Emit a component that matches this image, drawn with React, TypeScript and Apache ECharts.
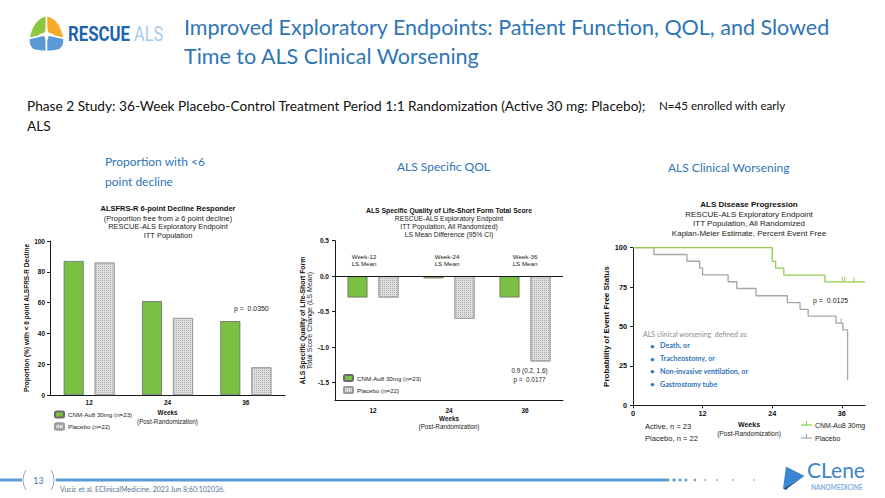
import React, { useEffect, useRef } from 'react';
import * as echarts from 'echarts';

// ---------- data ----------
const weeks = ['12', '24', '36'];
const responderActive = [87, 61, 48];
const responderPlacebo = [86, 50, 18];
const qolActive = [-0.3, -0.03, -0.3];
const qolPlacebo = [-0.3, -0.6, -1.2];
const qolTicks = [-1.5, -1.0, -0.5, 0, 0.5];
const kmWeekTicks = [0, 12, 24, 36];
const kmActiveWeeks = [0, 24.0, 24.6, 26.0, 33.1, 40];
const kmActiveProb = [100, 91.3, 87.0, 82.6, 78.3, 78.3];
const kmPlaceboWeeks = [0, 3.6, 9.3, 11.5, 12.0, 16.4, 17.9, 21.2, 26.6, 28.8, 30.2, 35.0, 36.2, 37.0];
const kmPlaceboProb = [100, 95.7, 91.4, 87.0, 82.7, 78.4, 74.1, 69.5, 65.1, 60.9, 56.6, 52.1, 47.8, 15.9];
const kmActiveCensorWeeks = [36.1, 36.5, 38.1];
const kmActiveCensorProb = [78.3, 78.3, 78.3];
const kmPlaceboCensorWeeks = [35.9];
const kmPlaceboCensorProb = [52.1];
const worseningItems = ['Death, or', 'Tracheostomy, or', 'Non-invasive ventilation, or', 'Gastrostomy tube'];

const ACTIVE = 'CNM-Au8 30mg (n=23)';
const PLACEBO = 'Placebo (n=22)';

const FONT = '"Liberation Sans", Arial, sans-serif';
const SLIDE = 'Lato, Calibri, sans-serif';
const BLUE = '#2e75b6';
const GREEN = '#7ac143';
const KM_GREEN = '#8fce4d';
const KM_GRAY = '#a6a6a6';

// ---------- logo shapes ----------
let registered = false;
function registerShapes() {
  if (registered) return;
  registered = true;
  const g = echarts.graphic as any;
  g.registerShape('rescueGreen', g.extendPath('M18,0 Q4,3 0.5,23 L18,19 Z', {}));
  g.registerShape('rescueOrange', g.extendPath('M18,0 Q32,3 35.5,23 L18,19 Z', {}));
  g.registerShape('rescueBlueL', g.extendPath('M0.5,23 Q-0.5,34 8,35 Q13,36 18,36 L18,19 Z', {}));
  g.registerShape('rescueBlueR', g.extendPath('M35.5,23 Q36.5,34 28,35 Q23,36 18,36 L18,19 Z', {}));
}

function txt(text: string, x: number, y: number, size: number, fill: string, extra: any = {}) {
  return {
    type: 'text',
    x,
    y,
    silent: true,
    scaleX: extra.scaleX ?? 1,
    style: {
      text,
      fontSize: size,
      fontFamily: extra.family || SLIDE,
      fontWeight: extra.weight || 'normal',
      fill,
      align: extra.align || 'left',
      verticalAlign: 'middle',
    },
  };
}

function zip(a: number[], b: number[]) {
  return a.map((v, i) => [v, b[i]]);
}

function buildOption() {
  const axisLineStyle = { color: '#1a1a1a', width: 1 };
  const tickLabel = (size: number) => ({ fontSize: size, fontWeight: 'bold', color: '#111', fontFamily: FONT });
  const weeksName = '{a|Weeks}\n{b|(Post-Randomization)}';
  const weeksRich = (sizeA: number, sizeB: number, lh: number) => ({
    rich: {
      a: { fontSize: sizeA, fontWeight: 'bold', color: '#111', lineHeight: lh, fontFamily: FONT },
      b: { fontSize: sizeB, color: '#222', lineHeight: lh, fontFamily: FONT },
    },
  });
  const placeboDecal = {
    symbol: 'rect',
    symbolSize: 1,
    dashArrayX: [1, 1],
    dashArrayY: [1, 1],
    color: 'rgba(120,120,120,0.45)',
    rotation: 0,
  };

  const graphic: any[] = [
    // RESCUE ALS logo
    { type: 'rescueGreen', x: 28.5, y: 15.5, style: { fill: '#8dc63f', stroke: '#fff', lineWidth: 1.5 } },
    { type: 'rescueOrange', x: 28.5, y: 15.5, style: { fill: '#f7a928', stroke: '#fff', lineWidth: 1.5 } },
    { type: 'rescueBlueL', x: 28.5, y: 15.5, style: { fill: '#5b9bd5', stroke: '#fff', lineWidth: 1.5 } },
    { type: 'rescueBlueR', x: 28.5, y: 15.5, style: { fill: '#5b9bd5', stroke: '#fff', lineWidth: 1.5 } },
    {
      type: 'polygon',
      x: 28.5,
      y: 15.5,
      shape: { points: [[18, 11], [20, 17], [26, 19], [20, 21], [18, 27], [16, 21], [10, 19], [16, 17]] },
      style: { fill: '#ffffff' },
    },
    txt('RESCUE', 68, 34, 21, '#1f63ad', { family: 'Roboto', weight: 'bold', scaleX: 0.8 }),
    txt('ALS', 134, 34, 21, '#a9cbea', { family: 'Roboto', scaleX: 0.78 }),
    // title
    txt('Improved Exploratory Endpoints: Patient Function, QOL, and Slowed', 184, 27, 21.5, BLUE),
    txt('Time to ALS Clinical Worsening', 184, 56, 21.5, BLUE),
    // subtitle
    txt('Phase 2 Study: 36-Week Placebo-Control Treatment Period 1:1 Randomization (Active 30 mg: Placebo);', 27, 105, 13.7, '#111'),
    txt('N=45 enrolled with early', 659, 105, 11.6, '#111'),
    txt('ALS', 27, 125, 13.7, '#111'),
    // section headings
    txt('Proportion with <6', 105, 161, 12, BLUE),
    txt('point decline', 105, 181, 12, BLUE),
    txt('ALS Specific QOL', 397, 166, 12, BLUE),
    txt('ALS Clinical Worsening', 668, 167, 12, BLUE),
    // chart 1 annotation
    txt('p =  0.0350', 234, 308, 6.9, '#222', { family: FONT }),
    // chart 2 annotations
    txt('Week-12', 364, 256.7, 6.2, '#222', { family: FONT, align: 'center' }),
    txt('LS Mean', 364, 263.3, 6.2, '#222', { family: FONT, align: 'center' }),
    txt('Week-24', 447, 256.7, 6.2, '#222', { family: FONT, align: 'center' }),
    txt('LS Mean', 447, 263.3, 6.2, '#222', { family: FONT, align: 'center' }),
    txt('Week-36', 525, 256.7, 6.2, '#222', { family: FONT, align: 'center' }),
    txt('LS Mean', 525, 263.3, 6.2, '#222', { family: FONT, align: 'center' }),
    txt('0.9 (0.2, 1.6)', 529.5, 370, 6.4, '#222', { family: FONT, align: 'center' }),
    txt('p =  0.0177', 529.5, 379, 6.4, '#222', { family: FONT, align: 'center' }),
    // chart 3 annotations
    txt('p =  0.0125', 813, 300, 7, '#222', { family: FONT }),
    txt('ALS clinical worsening  defined as:', 643, 334, 7, '#8c8c8c'),
    txt('Active, n = 23', 645, 426, 7.6, '#222', { family: FONT }),
    txt('Placebo, n = 22', 645, 438, 7.6, '#222', { family: FONT }),
    // KM legend
    { type: 'line', shape: { x1: 801, y1: 425, x2: 812, y2: 425 }, style: { stroke: KM_GREEN, lineWidth: 1.2 } },
    { type: 'line', shape: { x1: 806.5, y1: 421, x2: 806.5, y2: 425 }, style: { stroke: KM_GREEN, lineWidth: 1.2 } },
    txt('CNM-Au8 30mg', 815, 425, 7, '#222', { family: FONT }),
    { type: 'line', shape: { x1: 801, y1: 438, x2: 812, y2: 438 }, style: { stroke: KM_GRAY, lineWidth: 1.2 } },
    { type: 'line', shape: { x1: 806.5, y1: 434, x2: 806.5, y2: 438 }, style: { stroke: KM_GRAY, lineWidth: 1.2 } },
    txt('Placebo', 815, 438, 7, '#222', { family: FONT }),
    // footer
    { type: 'line', shape: { x1: 0, y1: 480, x2: 22, y2: 480 }, style: { stroke: '#5b9bd5', lineWidth: 3 } },
    { type: 'line', shape: { x1: 57, y1: 480, x2: 668, y2: 480 }, style: { stroke: '#5b9bd5', lineWidth: 3, lineCap: 'round' } },
    {
      type: 'arc',
      shape: { cx: 41, cy: 480, r: 18, startAngle: Math.PI - 0.59, endAngle: Math.PI + 0.59, clockwise: true },
      style: { stroke: '#8aa9cf', lineWidth: 1, fill: 'none' },
    },
    {
      type: 'arc',
      shape: { cx: 36, cy: 480, r: 18, startAngle: -0.59, endAngle: 0.59, clockwise: true },
      style: { stroke: '#8aa9cf', lineWidth: 1, fill: 'none' },
    },
    txt('13', 38.5, 480, 9, '#5577a6', { align: 'center' }),
    txt('Vucic et al. EClinicalMedicine. 2023 Jun 8;60:102036.', 60, 489, 7, '#5a6f96'),
    // Clene logo
    { type: 'polygon', shape: { points: [[786, 466.5], [804.5, 476], [783, 488.5]] }, style: { fill: '#3a86d0' } },
    { type: 'polygon', shape: { points: [[783, 488.5], [804.5, 476], [789, 487], [786, 490]] }, style: { fill: '#1e4f8e' } },
    txt('CLene', 807, 469.5, 21, '#3d85c6'),
    txt('NANOMEDICINE', 811, 487.5, 6.5, '#7fb0de', { weight: 'bold' }),
  ];

  // footer dots
  const dotX = [674, 680, 686, 695, 705, 717, 733, 754];
  dotX.forEach((x, i) => {
    graphic.push({
      type: 'circle',
      shape: { cx: x, cy: 480, r: 1.6 - i * 0.1 },
      style: { fill: i < 4 ? '#5b9bd5' : '#9cc2e8' },
    });
  });

  // KM bullet list
  worseningItems.forEach((t, i) => {
    const y = 345.7 + i * 12.8;
    graphic.push(txt('•', 650, y, 8, BLUE, { weight: 'bold' }));
    graphic.push(txt(t, 660, y, 7.2, BLUE, { weight: 'bold' }));
  });

  const legendBase = {
    orient: 'vertical',
    padding: 0,
    itemWidth: 9,
    itemHeight: 6,
    itemGap: 4,
    selectedMode: false,
    data: [ACTIVE, PLACEBO],
    textStyle: { fontSize: 6.2, color: '#222', fontFamily: FONT, padding: [0, 0, 0, -1] },
  };

  return {
    animation: false,
    backgroundColor: '#ffffff',
    textStyle: { fontFamily: FONT },
    title: [
      {
        left: 168,
        top: 204,
        textAlign: 'center',
        padding: 0,
        itemGap: 2,
        text: 'ALSFRS-R 6-point Decline Responder',
        subtext: '(Proportion free from \u2265 6 point decline)\nRESCUE-ALS Exploratory Endpoint\nITT Population',
        textStyle: { fontSize: 7.5, lineHeight: 8, fontWeight: 'bold', color: '#111', fontFamily: FONT },
        subtextStyle: { fontSize: 7.5, lineHeight: 8.5, color: '#222', fontFamily: FONT },
      },
      {
        left: 449,
        top: 206.5,
        textAlign: 'center',
        padding: 0,
        itemGap: 1,
        text: 'ALS Specific Quality of Life-Short Form Total Score',
        subtext: 'RESCUE-ALS Exploratory Endpoint\nITT Population, All Randomized)\nLS Mean Difference (95% CI)',
        textStyle: { fontSize: 6.8, lineHeight: 7, fontWeight: 'bold', color: '#111', fontFamily: FONT },
        subtextStyle: { fontSize: 6.8, lineHeight: 8, color: '#222', fontFamily: FONT },
      },
      {
        left: 749,
        top: 200,
        textAlign: 'center',
        padding: 0,
        itemGap: 1,
        text: 'ALS Disease Progression',
        subtext: 'RESCUE-ALS Exploratory Endpoint\nITT Population, All Randomized\nKaplan-Meier Estimate, Percent Event Free',
        textStyle: { fontSize: 8, lineHeight: 8.5, fontWeight: 'bold', color: '#111', fontFamily: FONT },
        subtextStyle: { fontSize: 8, lineHeight: 9.5, color: '#222', fontFamily: FONT },
      },
    ],
    legend: [
      { ...legendBase, left: 54, top: 410.5 },
      { ...legendBase, left: 343, top: 374 },
    ],
    grid: [
      { left: 50, top: 241, width: 235, height: 154 },
      { left: 335, top: 240.7, width: 228, height: 159.8 },
      { left: 633, top: 247.7, width: 232, height: 157.6 },
    ],
    xAxis: [
      {
        gridIndex: 0,
        type: 'category',
        data: weeks,
        axisLine: { lineStyle: axisLineStyle },
        axisTick: { alignWithLabel: true, length: 3, lineStyle: axisLineStyle },
        axisLabel: { ...tickLabel(6.5), margin: 4 },
        name: weeksName,
        nameLocation: 'middle',
        nameGap: 13,
        nameTextStyle: weeksRich(6.3, 6.3, 9),
      },
      {
        gridIndex: 1,
        type: 'category',
        data: weeks,
        axisLine: { onZero: false, lineStyle: axisLineStyle },
        axisTick: { alignWithLabel: true, length: 3, lineStyle: axisLineStyle },
        axisLabel: { ...tickLabel(6.5), margin: 6 },
        name: weeksName,
        nameLocation: 'middle',
        nameGap: 14.5,
        nameTextStyle: weeksRich(6.3, 6.3, 7.5),
      },
      {
        gridIndex: 2,
        type: 'value',
        min: 0,
        max: 40,
        axisLine: { show: true, onZero: false, lineStyle: axisLineStyle },
        axisTick: { show: true, length: 3, lineStyle: axisLineStyle, customValues: kmWeekTicks },
        axisLabel: { ...tickLabel(7.3), margin: 5, customValues: kmWeekTicks },
        splitLine: { show: false },
        name: weeksName,
        nameLocation: 'middle',
        nameGap: 15,
        nameTextStyle: weeksRich(7, 6.6, 9),
      },
    ],
    yAxis: [
      {
        gridIndex: 0,
        type: 'value',
        min: 0,
        max: 100,
        interval: 20,
        axisLine: { show: true, lineStyle: axisLineStyle },
        axisTick: { show: true, length: 3, lineStyle: axisLineStyle },
        axisLabel: { ...tickLabel(6.5), margin: 5 },
        splitLine: { show: false },
        name: 'Proportion (%) with < 6 point ALSFRS-R Decline',
        nameLocation: 'middle',
        nameRotate: 90,
        nameGap: 19,
        nameTextStyle: { fontSize: 6.5, fontWeight: 'bold', color: '#111', fontFamily: FONT },
      },
      {
        gridIndex: 1,
        type: 'value',
        min: -1.75,
        max: 0.5,
        axisLine: { show: true, onZero: false, lineStyle: axisLineStyle },
        axisTick: { show: true, length: 3, lineStyle: axisLineStyle, customValues: qolTicks },
        axisLabel: {
          ...tickLabel(6.5),
          margin: 6,
          customValues: qolTicks,
          formatter: (v: number) => v.toFixed(1),
        },
        splitLine: { show: false },
        name: '{a|ALS Specific Quality of Life-Short Form}\n{b|Total Score Change (LS Mean)}',
        nameLocation: 'middle',
        nameRotate: 90,
        nameGap: 20,
        nameTextStyle: {
          rich: {
            a: { fontSize: 6.8, fontWeight: 'bold', color: '#111', lineHeight: 7.5, fontFamily: FONT },
            b: { fontSize: 7.1, color: '#222', lineHeight: 7.5, fontFamily: FONT },
          },
        },
      },
      {
        gridIndex: 2,
        type: 'value',
        min: 0,
        max: 100,
        interval: 25,
        axisLine: { show: true, lineStyle: axisLineStyle },
        axisTick: { show: true, length: 3, lineStyle: axisLineStyle },
        axisLabel: { ...tickLabel(7.3), margin: 6 },
        splitLine: { show: false },
        name: 'Probability of Event Free Status',
        nameLocation: 'middle',
        nameRotate: 90,
        nameGap: 21,
        nameTextStyle: { fontSize: 8, fontWeight: 'bold', color: '#111', fontFamily: FONT },
      },
    ],
    series: [
      {
        type: 'bar',
        name: ACTIVE,
        xAxisIndex: 0,
        yAxisIndex: 0,
        data: responderActive,
        barWidth: 20,
        barGap: '55%',
        itemStyle: { color: GREEN, borderColor: '#6b6b6b', borderWidth: 0.8 },
      },
      {
        type: 'bar',
        name: PLACEBO,
        xAxisIndex: 0,
        yAxisIndex: 0,
        data: responderPlacebo,
        barWidth: 20,
        barGap: '55%',
        itemStyle: { color: '#dedede', borderColor: '#9b9b9b', borderWidth: 0.8, decal: placeboDecal },
      },
      {
        type: 'bar',
        name: ACTIVE,
        xAxisIndex: 1,
        yAxisIndex: 1,
        data: qolActive,
        barWidth: 20,
        barGap: '55%',
        itemStyle: { color: GREEN, borderColor: '#6b6b6b', borderWidth: 0.8 },
      },
      {
        type: 'bar',
        name: PLACEBO,
        xAxisIndex: 1,
        yAxisIndex: 1,
        data: qolPlacebo,
        barWidth: 20,
        barGap: '55%',
        itemStyle: { color: '#dedede', borderColor: '#9b9b9b', borderWidth: 0.8, decal: placeboDecal },
        markLine: {
          silent: true,
          symbol: 'none',
          label: { show: false },
          lineStyle: { color: '#1a1a1a', width: 1, type: 'solid' },
          data: [{ yAxis: 0 }],
        },
      },
      {
        type: 'line',
        name: 'CNM-Au8 30mg',
        xAxisIndex: 2,
        yAxisIndex: 2,
        step: 'end',
        symbol: 'none',
        data: zip(kmActiveWeeks, kmActiveProb),
        lineStyle: { color: KM_GREEN, width: 1.3 },
        itemStyle: { color: KM_GREEN },
        z: 3,
      },
      {
        type: 'line',
        name: 'Placebo',
        xAxisIndex: 2,
        yAxisIndex: 2,
        step: 'end',
        symbol: 'none',
        data: zip(kmPlaceboWeeks, kmPlaceboProb),
        lineStyle: { color: KM_GRAY, width: 1.3 },
        itemStyle: { color: KM_GRAY },
        z: 2,
      },
      {
        type: 'scatter',
        name: 'Active censored',
        xAxisIndex: 2,
        yAxisIndex: 2,
        symbol: 'rect',
        symbolSize: [1.2, 5],
        symbolOffset: [0, -2.5],
        data: zip(kmActiveCensorWeeks, kmActiveCensorProb),
        itemStyle: { color: KM_GREEN },
      },
      {
        type: 'scatter',
        name: 'Placebo censored',
        xAxisIndex: 2,
        yAxisIndex: 2,
        symbol: 'rect',
        symbolSize: [1.2, 5],
        symbolOffset: [0, -2.5],
        data: zip(kmPlaceboCensorWeeks, kmPlaceboCensorProb),
        itemStyle: { color: KM_GRAY },
      },
    ],
    graphic,
  };
}

export default function App() {
  const ref = useRef<HTMLDivElement>(null);
  useEffect(() => {
    registerShapes();
    const chart = echarts.init(ref.current as HTMLDivElement, undefined, { renderer: 'svg', width: 885, height: 498 });
    chart.setOption(buildOption() as any);
    return () => chart.dispose();
  }, []);
  return (
    <div
      ref={ref}
      style={{ position: 'fixed', left: 0, top: 0, width: 885, height: 498, background: '#ffffff' }}
    />
  );
}
